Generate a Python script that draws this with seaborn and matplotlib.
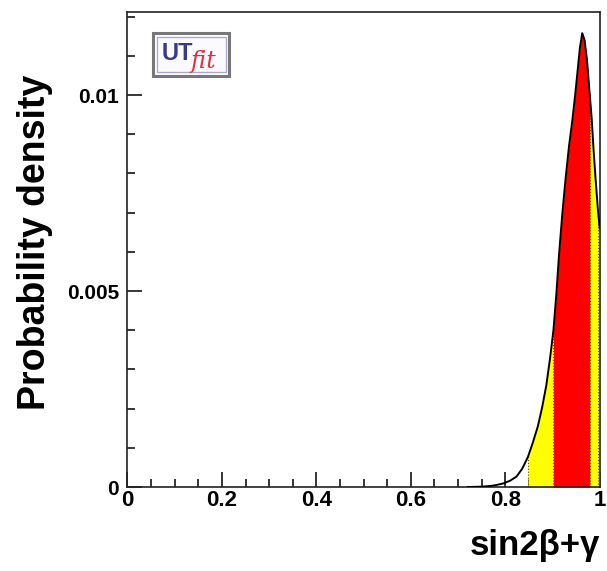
import numpy as np
import pandas as pd
import seaborn as sns
import matplotlib.pyplot as plt
from matplotlib.patches import FancyBboxPatch
from matplotlib.ticker import MultipleLocator, FixedLocator

# values
x_vals = [0.72, 0.75, 0.77, 0.78, 0.795, 0.81, 0.824, 0.836, 0.848, 0.858,
          0.869, 0.878, 0.887, 0.895, 0.902, 0.908, 0.914, 0.921, 0.928, 0.935,
          0.942, 0.948, 0.953, 0.958, 0.963, 0.968, 0.973, 0.979, 0.983, 0.987,
          0.991, 0.996, 1.0]
density = [0.0, 0.00001, 0.00003, 0.00005, 0.00009, 0.00016, 0.00027, 0.00047, 0.00077, 0.00112,
           0.00155, 0.00203, 0.0026, 0.0033, 0.0040, 0.0049, 0.00595, 0.0070, 0.0079, 0.0087,
           0.00935, 0.0100, 0.0106, 0.0112, 0.01158, 0.0114, 0.0109, 0.0100, 0.0094, 0.0086,
           0.0079, 0.0071, 0.0066]
range_95 = (0.848, 1.0)     # yellow
range_68 = (0.902, 0.979)   # red
x_ticks = [0, 0.2, 0.4, 0.6, 0.8, 1.0]
x_tick_labels = ['0', '0.2', '0.4', '0.6', '0.8', '1']
y_ticks = [0, 0.005, 0.01]
y_tick_labels = ['0', '0.005', '0.01']

df = pd.DataFrame({'x': x_vals, 'y': density})

sns.set_style('ticks')
plt.rcParams['font.family'] = ['Liberation Sans', 'DejaVu Sans']
plt.rcParams['font.weight'] = 'bold'
plt.rcParams['text.color'] = 'black'
plt.rcParams['xtick.color'] = 'black'
plt.rcParams['ytick.color'] = 'black'

fig = plt.figure(figsize=(6.07, 5.71), dpi=100)
ax = fig.add_axes([0.210, 0.147, 0.778, 0.832])

xs = df['x'].to_numpy()
ys = df['y'].to_numpy()
ax.fill_between(xs, 0, ys, where=(xs >= range_95[0]) & (xs <= range_95[1]),
                color='#ffff00', linewidth=0, zorder=1)
ax.fill_between(xs, 0, ys, where=(xs >= range_68[0]) & (xs <= range_68[1]),
                color='#ff0000', linewidth=0, zorder=2)
# dotted edges of the shaded intervals
for b in [range_95[0], range_68[0], range_68[1], 0.996]:
    ax.axvline(b, ymax=np.interp(b, xs, ys) / 0.01212, color='#555500',
               linestyle=':', linewidth=0.8, zorder=2.5)

sns.lineplot(data=df, x='x', y='y', color='black', linewidth=1.4, ax=ax, zorder=3)

ax.set_xlim(0, 1)
ax.set_ylim(0, 0.01212)

ax.xaxis.set_major_locator(FixedLocator(x_ticks))
ax.set_xticklabels(x_tick_labels, fontsize=16, fontweight='bold')
ax.xaxis.set_minor_locator(MultipleLocator(0.05))
ax.yaxis.set_major_locator(FixedLocator(y_ticks))
ax.set_yticklabels(y_tick_labels, fontsize=15, fontweight='bold')
ax.yaxis.set_minor_locator(MultipleLocator(0.001))

ax.tick_params(which='major', direction='in', length=11, width=1.1, pad=2)
ax.tick_params(axis='y', which='major', pad=6)
ax.tick_params(which='minor', direction='in', length=5.5, width=1.1)
for s in ax.spines.values():
    s.set_linewidth(1.2)
    s.set_color('#222222')

ax.set_xlabel('')
ax.set_ylabel('')
fig.text(0.058, 0.575, 'Probability density', rotation=90, ha='center', va='center',
         fontsize=27, fontweight='bold')
fig.text(0.988, 0.045, 'sin2\u03b2+\u03b3', ha='right', va='center',
         fontsize=25, fontweight='bold')

# UTfit logo
box = FancyBboxPatch((0.055, 0.865), 0.16, 0.09, boxstyle='square,pad=0',
                     transform=ax.transAxes, facecolor='white', edgecolor='#777777',
                     linewidth=2.2, zorder=5)
ax.add_patch(box)
box2 = FancyBboxPatch((0.062, 0.873), 0.146, 0.074, boxstyle='square,pad=0',
                      transform=ax.transAxes, facecolor='#fbfbff', edgecolor='#aaaacc',
                      linewidth=1.0, zorder=6)
ax.add_patch(box2)
ax.text(0.072, 0.912, 'UT', transform=ax.transAxes, color='#3a3a8c', fontsize=17,
        fontweight='bold', ha='left', va='center', zorder=7)
ax.text(0.133, 0.895, 'fit', transform=ax.transAxes, color='#e0303a', fontsize=17,
        fontstyle='italic', fontweight='normal', ha='left', va='center', zorder=7,
        family=['DejaVu Serif'])

fig.savefig('out.png', dpi=100)
